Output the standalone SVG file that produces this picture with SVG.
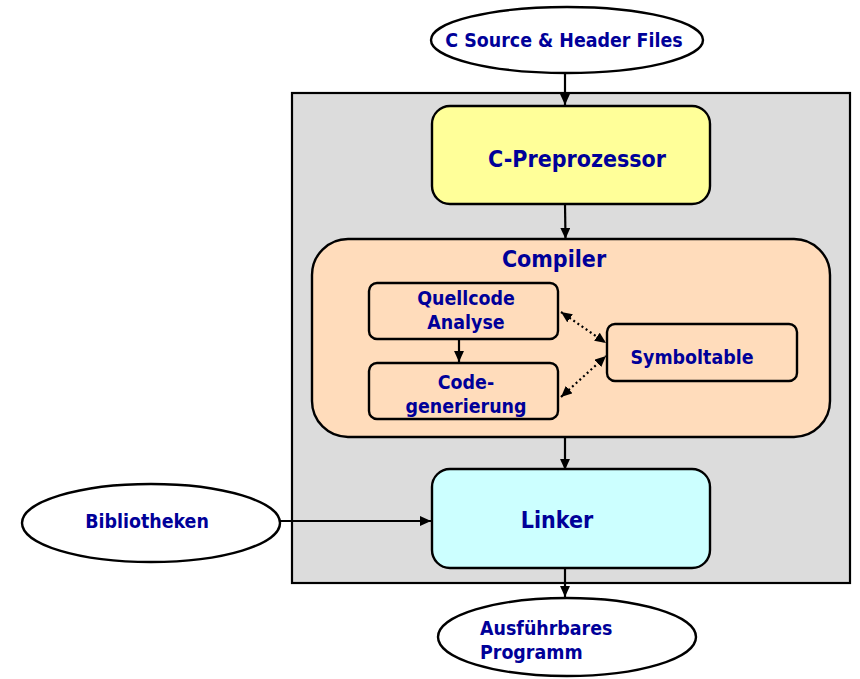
<svg xmlns="http://www.w3.org/2000/svg" width="860" height="679" viewBox="0 0 860 679">
<style>
text{font-family:"DejaVu Sans Condensed","DejaVu Sans","Liberation Sans",sans-serif;font-stretch:condensed;font-weight:bold;fill:#000099}
.s{font-size:19.4px}
.l{font-size:23px}
.box{stroke:#000;stroke-width:2.4}
.ell{fill:#fff;stroke:#000;stroke-width:2.4}
.c{stroke:#000;stroke-width:2.2;fill:none}
.d{stroke:#000;stroke-width:2.2;fill:none;stroke-dasharray:2,3}
</style>
<defs>
<marker id="ah" viewBox="0 0 10 10" refX="10" refY="5" markerWidth="5" markerHeight="4.5" orient="auto" markerUnits="strokeWidth" preserveAspectRatio="none">
<path d="M0,0 L10,5 L0,10 z" fill="#000"/>
</marker>
<marker id="as" viewBox="0 0 10 10" refX="0" refY="5" markerWidth="5" markerHeight="4.5" orient="auto" markerUnits="strokeWidth" preserveAspectRatio="none">
<path d="M10,0 L0,5 L10,10 z" fill="#000"/>
</marker>
</defs>
<rect x="0" y="0" width="860" height="679" fill="#fff"/>
<g id="system">
<rect x="292" y="93" width="558" height="490" fill="#dcdcdc" stroke="#000" stroke-width="2.2"/>
</g>
<g id="source">
<ellipse class="ell" cx="567" cy="40" rx="136" ry="33"/>
<text class="s" x="564" y="47" text-anchor="middle">C Source &amp; Header Files</text>
</g>
<g id="preprozessor">
<rect class="box" x="432" y="106" width="278" height="98" rx="18" fill="#ffff99"/>
<text class="l" x="577" y="167" text-anchor="middle">C-Preprozessor</text>
</g>
<g id="compiler">
<rect class="box" x="312" y="239" width="518" height="198" rx="36" fill="#ffdcbb"/>
<text class="l" x="554" y="267" text-anchor="middle">Compiler</text>
</g>
<g id="analyse">
<rect class="box" x="369" y="283" width="189" height="56" rx="8" fill="#ffdcbb"/>
<text class="s" x="466" y="305" text-anchor="middle">Quellcode</text>
<text class="s" x="466" y="329" text-anchor="middle">Analyse</text>
</g>
<g id="codegen">
<rect class="box" x="369" y="363" width="189" height="56" rx="8" fill="#ffdcbb"/>
<text class="s" x="466" y="389" text-anchor="middle">Code-</text>
<text class="s" x="466" y="413" text-anchor="middle">generierung</text>
</g>
<g id="symboltable">
<rect class="box" x="607" y="324" width="190" height="57" rx="8" fill="#ffdcbb"/>
<text class="s" x="692" y="364" text-anchor="middle">Symboltable</text>
</g>
<g id="linker">
<rect class="box" x="432" y="469" width="278" height="99" rx="18" fill="#ccffff"/>
<text class="l" x="557" y="528" text-anchor="middle">Linker</text>
</g>
<g id="bibliotheken">
<ellipse class="ell" cx="151" cy="523" rx="129" ry="39"/>
<text class="s" x="147" y="528" text-anchor="middle">Bibliotheken</text>
</g>
<g id="programm">
<ellipse class="ell" cx="567" cy="637" rx="129" ry="39"/>
<text class="s" x="480" y="635">Ausführbares</text>
<text class="s" x="480" y="659">Programm</text>
</g>
<g id="connectors">
<line class="c" x1="565" y1="73" x2="565" y2="105" marker-end="url(#ah)"/>
<line class="c" x1="565" y1="204" x2="565.5" y2="239" marker-end="url(#ah)"/>
<line class="c" x1="459" y1="339" x2="459" y2="362" marker-end="url(#ah)"/>
<line class="d" x1="561" y1="312" x2="606" y2="343" marker-start="url(#as)" marker-end="url(#ah)"/>
<line class="d" x1="561" y1="397" x2="606" y2="356" marker-start="url(#as)" marker-end="url(#ah)"/>
<line class="c" x1="565" y1="437" x2="565" y2="470" marker-end="url(#ah)"/>
<line class="c" x1="280" y1="521" x2="431" y2="521" marker-end="url(#ah)"/>
<line class="c" x1="565" y1="568" x2="565" y2="597" marker-end="url(#ah)"/>
</g>
</svg>
